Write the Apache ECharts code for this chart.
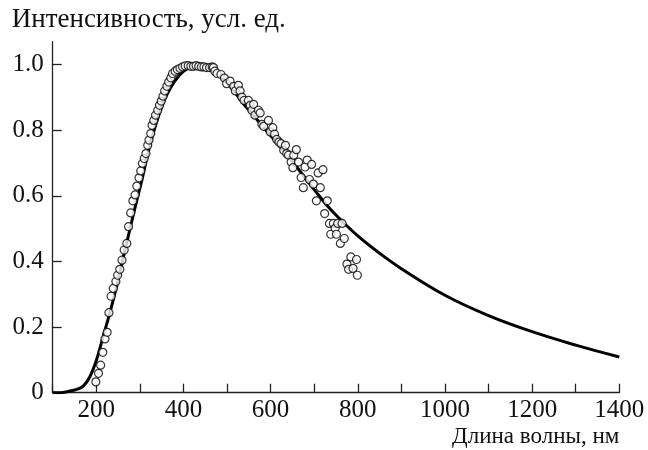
<!DOCTYPE html>
<html>
<head>
<meta charset="utf-8">
<script src="https://cdn.jsdelivr.net/npm/echarts@6/dist/echarts.min.js"></script>
<style>html,body{margin:0;padding:0;background:#fff}#c{width:648px;height:450px}</style>
</head>
<body>
<div id="c"></div>
<script>
const curveLambda = [100,120,130,140,155,170,185,200,215,230,245,260,275,290,305,320,340,360,380,400,420,440,460,480,500,520,540,560,580,600,620,640,660,680,700,730,760,800,850,900,1000,1100,1200,1300,1400];
const curveValue  = [0,0,0.002,0.005,0.010,0.020,0.048,0.098,0.168,0.238,0.315,0.402,0.486,0.570,0.650,0.738,0.832,0.903,0.950,0.980,0.992,0.993,0.985,0.968,0.944,0.912,0.877,0.847,0.814,0.784,0.753,0.721,0.688,0.653,0.619,0.570,0.528,0.478,0.425,0.378,0.297,0.235,0.186,0.145,0.109];

const pointLambda = [199,205,210,215,220,225,229,234,239,245,249,254,259,264,270,274,279,284,289,293,298,302,306,310,314,318,321,325,328,332,336,341,345,349,353,357,362,366,371,375,381,386,392,398,404,411,417,423,429,435,441,447,453,460,466,469,472,477,486,494,499,507,515,519,526,530,534,539,549,553,557,561,564,572,576,580,584,595,599,605,609,614,619,624,630,634,637,641,647,651,653,659,664,670,675,679,684,689,694,698,705,709,714,720,724,730,735,738,744,748,751,754,760,764,769,775,779,784,789,797,799];
const pointValue  = [0.033,0.059,0.084,0.123,0.164,0.184,0.244,0.294,0.318,0.339,0.358,0.376,0.404,0.435,0.455,0.506,0.548,0.585,0.603,0.630,0.655,0.676,0.699,0.714,0.729,0.754,0.770,0.790,0.815,0.830,0.846,0.861,0.876,0.889,0.904,0.920,0.934,0.947,0.960,0.973,0.980,0.985,0.989,0.993,0.996,0.997,0.995,0.995,0.997,0.995,0.993,0.993,0.991,0.991,0.993,0.991,0.980,0.973,0.970,0.959,0.942,0.950,0.934,0.920,0.937,0.920,0.901,0.891,0.891,0.876,0.861,0.879,0.846,0.861,0.853,0.818,0.812,0.830,0.795,0.808,0.788,0.772,0.764,0.759,0.739,0.754,0.729,0.724,0.703,0.686,0.724,0.741,0.703,0.656,0.625,0.688,0.709,0.650,0.696,0.636,0.585,0.670,0.625,0.680,0.546,0.585,0.516,0.483,0.516,0.501,0.483,0.516,0.455,0.516,0.470,0.392,0.376,0.414,0.379,0.406,0.358];

const xTicks = [100,200,300,400,500,600,700,800,900,1000,1100,1200,1300,1400];
const xLabels = [200,400,600,800,1000,1200,1400];
const yTicks = [0,0.2,0.4,0.6,0.8,1.0];

const xTitle = 'Длина волны, нм';
const yTitle = 'Интенсивность, усл. ед.';

const font = '"Liberation Serif", "Times New Roman", serif';
const chart = echarts.init(document.getElementById('c'), null, {renderer: 'canvas'});
chart.setOption({
  animation: false,
  backgroundColor: '#fff',
  grid: {left: 52.7, right: 28.7, top: 41.7, bottom: 57.3, containLabel: false, outerBoundsMode: 'none'},
  xAxis: {
    type: 'value', min: 100, max: 1400,
    axisLine: {show: true, lineStyle: {color: '#222', width: 1.3}},
    axisTick: {show: true, inside: true, length: 9, customValues: xTicks, lineStyle: {color: '#222', width: 1.3}},
    axisLabel: {customValues: xLabels, color: '#111', fontFamily: font, fontSize: 25, margin: 5,
      formatter: v => String(v)},
    splitLine: {show: false},
    name: xTitle, nameLocation: 'end', nameGap: 0,
    nameTextStyle: {color: '#111', fontFamily: font, fontSize: 23, align: 'right', verticalAlign: 'top', padding: [33, 0, 0, 0]}
  },
  yAxis: {
    type: 'value', min: 0, max: 1.07,
    axisLine: {show: true, lineStyle: {color: '#222', width: 1.3}},
    axisTick: {show: true, inside: true, length: 9, customValues: yTicks, lineStyle: {color: '#222', width: 1.3}},
    axisLabel: {customValues: yTicks, color: '#111', fontFamily: font, fontSize: 25, margin: 9,
      formatter: v => v === 0 ? '0' : v.toFixed(1)},
    splitLine: {show: false},
    name: yTitle, nameLocation: 'end', nameGap: 8,
    nameTextStyle: {color: '#111', fontFamily: font, fontSize: 27, align: 'left', verticalAlign: 'bottom', padding: [0, 0, 0, -41]}
  },
  series: [
    {
      type: 'line', smooth: 0.4, showSymbol: false, z: 2,
      data: curveLambda.map((x, i) => [x, curveValue[i]]),
      lineStyle: {color: '#000', width: 3}
    },
    {
      type: 'scatter', z: 3, symbol: 'circle', symbolSize: 8,
      data: pointLambda.map((x, i) => [x, pointValue[i]]),
      itemStyle: {color: '#fff', borderColor: '#000', borderWidth: 1.2}
    }
  ]
});
</script>
</body>
</html>
